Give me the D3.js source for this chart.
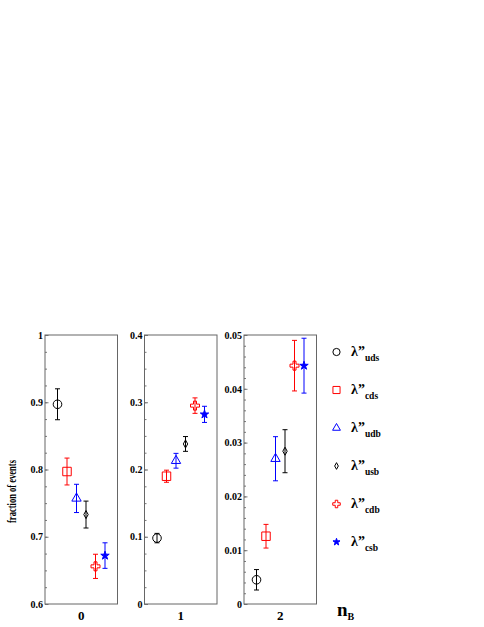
<!DOCTYPE html>
<html>
<head>
<meta charset="utf-8">
<script src="https://cdnjs.cloudflare.com/ajax/libs/d3/7.8.5/d3.min.js"></script>
<style>
  body { margin: 0; background: #fff; }
  svg { display: block; }
  text { font-family: "Liberation Serif", "DejaVu Serif", serif; font-weight: bold; }
</style>
</head>
<body>
<div id="chart"></div>
<script>
/* global d3 */
// couplings (legend order) and the three n_B bins
var couplings = ["uds", "cds", "udb", "usb", "cdb", "csb"];
var nBLabels = ["0", "1", "2"];

// fraction of events per coupling, one array per n_B bin, with errors
var fracNB0 = [0.897, 0.797, 0.757, 0.733, 0.656, 0.672];
var errNB0  = [0.023, 0.020, 0.021, 0.020, 0.018, 0.019];
var fracNB1 = [0.098, 0.190, 0.213, 0.238, 0.295, 0.282];
var errNB1  = [0.007, 0.009, 0.011, 0.011, 0.0115, 0.012];
var fracNB2 = [0.0045, 0.0126, 0.0270, 0.0284, 0.0443, 0.0443];
var errNB2  = [0.0019, 0.0022, 0.0041, 0.0040, 0.0047, 0.0051];

// axis ranges and ticks of each pad
var yDomains = [[0.6, 1], [0, 0.4], [0, 0.05]];
var yMajor = [[0.6, 0.7, 0.8, 0.9, 1], [0, 0.1, 0.2, 0.3, 0.4], [0, 0.01, 0.02, 0.03, 0.04, 0.05]];
var yMinorStep = [0.025, 0.025, 0.002];

var panels = [
    {label: nBLabels[0], frac: fracNB0, err: errNB0},
    {label: nBLabels[1], frac: fracNB1, err: errNB1},
    {label: nBLabels[2], frac: fracNB2, err: errNB2}
];

// marker style per coupling (ROOT open circle, square, triangle, diamond, cross, filled star)
var colorOf = {uds: "#000", cds: "#f00", udb: "#00f", usb: "#000", cdb: "#f00", csb: "#00f"};

var thinDiamond = {
    draw: function (ctx, size) {
        var h = Math.sqrt(size) / 2, w = h * 0.55;
        ctx.moveTo(0, -h); ctx.lineTo(w, 0); ctx.lineTo(0, h); ctx.lineTo(-w, 0); ctx.closePath();
    }
};
var markerType = {uds: d3.symbolCircle, cds: d3.symbolSquare, udb: d3.symbolTriangle,
                  usb: thinDiamond, cdb: d3.symbolCross, csb: d3.symbolStar};
var markerSize = {uds: 58, cds: 72, udb: 38, usb: 64, cdb: 45, csb: 22};

var W = 484, H = 627;
var padLeft = 45, padStep = 99.5, padW = 72.5;
var padTop = 335, padBottom = 604;

var svg = d3.select("#chart").append("svg")
        .attr("width", W)
        .attr("height", H);

panels.forEach(function (p, k) {
    var x0 = padLeft + k * padStep;
    var g = svg.append("g").attr("transform", "translate(" + x0 + ",0)");

    var x = d3.scalePoint()
            .domain(couplings)
            .range([12.5, padW - 12.5]);

    var y = d3.scaleLinear()
            .domain(yDomains[k])
            .range([padBottom, padTop]);

    // minor ticks
    var minor = d3.range(yDomains[k][0], yDomains[k][1] + 1e-9, yMinorStep[k]);
    g.append("g")
            .attr("class", "minor")
            .call(d3.axisLeft(y).tickValues(minor).tickSize(-2).tickFormat(""))
            .call(function (s) { s.select(".domain").remove(); });

    // major ticks + labels
    g.append("g")
            .attr("class", "major")
            .call(d3.axisLeft(y).tickValues(yMajor[k]).tickSize(-3.5).tickPadding(2)
                    .tickFormat(d3.format("~g")))
            .call(function (s) { s.select(".domain").remove(); });

    g.selectAll(".tick line").attr("stroke", "#777");
    g.selectAll(".major text")
            .attr("font-family", "Liberation Serif, serif")
            .attr("font-weight", "bold")
            .attr("font-size", 10)
            .attr("fill", "#000");

    // frame
    g.append("rect")
            .attr("x", 0).attr("y", padTop)
            .attr("width", padW).attr("height", padBottom - padTop)
            .attr("fill", "none")
            .attr("stroke", "#666")
            .attr("stroke-width", 1);

    // error bars
    var pts = couplings.map(function (c, i) {
        return {c: c, v: p.frac[i], e: p.err[i]};
    });
    var eb = g.selectAll("g.err").data(pts).enter().append("g")
            .attr("class", "err")
            .attr("stroke", function (d) { return colorOf[d.c]; })
            .attr("stroke-width", 1);
    eb.append("line")
            .attr("x1", function (d) { return x(d.c); })
            .attr("x2", function (d) { return x(d.c); })
            .attr("y1", function (d) { return y(d.v + d.e); })
            .attr("y2", function (d) { return y(d.v - d.e); });
    [1, -1].forEach(function (sgn) {
        eb.append("line")
                .attr("x1", function (d) { return x(d.c) - 2.5; })
                .attr("x2", function (d) { return x(d.c) + 2.5; })
                .attr("y1", function (d) { return y(d.v + sgn * d.e); })
                .attr("y2", function (d) { return y(d.v + sgn * d.e); });
    });

    // markers
    g.selectAll("path.mk").data(pts).enter().append("path")
            .attr("class", "mk")
            .attr("transform", function (d) { return "translate(" + x(d.c) + "," + y(d.v) + ")"; })
            .attr("d", function (d) { return d3.symbol().type(markerType[d.c]).size(markerSize[d.c])(); })
            .attr("fill", function (d) { return d.c === "csb" ? colorOf[d.c] : "none"; })
            .attr("stroke", function (d) { return colorOf[d.c]; })
            .attr("stroke-width", 1);

    // n_B bin label
    g.append("text")
            .attr("x", padW / 2)
            .attr("y", 620)
            .attr("text-anchor", "middle")
            .attr("font-size", 13)
            .text(p.label);
});

// y title
svg.append("text")
        .attr("transform", "translate(15.5,491.5) rotate(-90)")
        .attr("text-anchor", "middle")
        .attr("font-size", 13)
        .attr("textLength", 63)
        .attr("lengthAdjust", "spacingAndGlyphs")
        .text("fraction of events");

// legend
var legY = d3.scalePoint().domain(couplings).range([352, 542]);
var leg = svg.selectAll("g.leg").data(couplings).enter().append("g")
        .attr("class", "leg")
        .attr("transform", function (c) { return "translate(336.5," + legY(c) + ")"; });
leg.append("path")
        .attr("d", function (c) { return d3.symbol().type(markerType[c]).size(markerSize[c] * 0.7)(); })
        .attr("fill", function (c) { return c === "csb" ? colorOf[c] : "none"; })
        .attr("stroke", function (c) { return colorOf[c]; })
        .attr("stroke-width", 1);
var lt = leg.append("text")
        .attr("x", 14.5)
        .attr("y", 3.5)
        .attr("font-size", 14);
lt.append("tspan").text("\u03bb\u201d");
lt.append("tspan")
        .attr("dy", 5.5)
        .attr("font-size", 9.5)
        .text(function (c) { return c; });

// x title
var xt = svg.append("text")
        .attr("x", 337)
        .attr("y", 616)
        .attr("font-size", 19)
        .text("n");
xt.append("tspan")
        .attr("dy", 4)
        .attr("font-size", 10)
        .text("B");
</script>
</body>
</html>
